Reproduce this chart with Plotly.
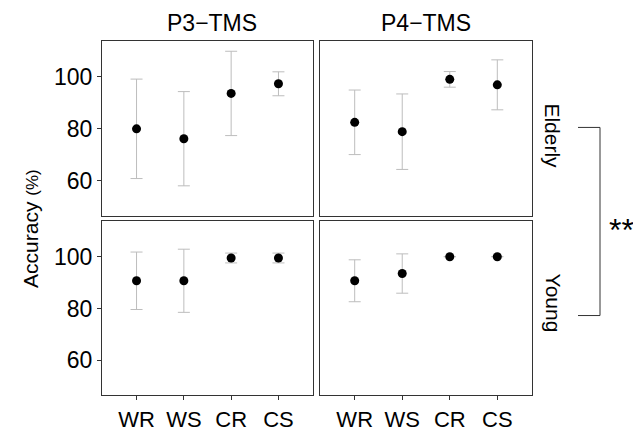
import plotly.graph_objects as go

categories = ["WR", "WS", "CR", "CS"]
cat_pos = [1, 2, 3, 4]

elderly_p3 = [80.0, 76.2, 93.6, 97.3]
elderly_p3_err = [19.1, 18.1, 16.2, 4.6]
elderly_p4 = [82.5, 78.9, 99.0, 96.9]
elderly_p4_err = [12.4, 14.5, 3.0, 9.6]
young_p3 = [90.7, 90.7, 99.5, 99.5]
young_p3_err = [11.1, 12.2, 1.9, 1.9]
young_p4 = [90.7, 93.5, 100.0, 100.0]
young_p4_err = [8.1, 7.6, 0.0, 0.0]

y_ticks = [60, 80, 100]
col_labels = ["P3\u2212TMS", "P4\u2212TMS"]
row_labels = ["Elderly", "Young"]

# page body has an 8px default margin; figure is sized to fill the rest
OFF = 8
W, H = 641 - OFF, 432 - OFF
FONT = "Liberation Sans, Arial, sans-serif"

def px_x(v):
    return (v - OFF) / W

def px_y(v):
    return 1 - (v - OFF) / H

panels = [
    (1, elderly_p3, elderly_p3_err, (102, 313), (41, 217)),
    (2, elderly_p4, elderly_p4_err, (320, 532), (41, 217)),
    (3, young_p3, young_p3_err, (102, 313), (222, 397)),
    (4, young_p4, young_p4_err, (320, 532), (222, 397)),
]

fig = go.Figure()
layout = dict(
    width=W, height=H, margin=dict(l=0, r=0, t=0, b=0),
    paper_bgcolor="white", plot_bgcolor="white", showlegend=False,
    font=dict(family=FONT, color="black"),
)

for i, vals, errs, (x0, x1), (y0, y1) in panels:
    sx = "" if i == 1 else str(i)
    fig.add_trace(go.Scatter(
        x=cat_pos, y=vals, mode="markers",
        marker=dict(color="black", size=9),
        error_y=dict(type="data", array=errs, visible=True,
                     color="#bdbdbd", thickness=1, width=6),
        xaxis="x" + sx, yaxis="y" + sx,
    ))
    bottom = i in (3, 4)
    left = i in (1, 3)
    layout["xaxis" + sx] = dict(
        domain=[px_x(x0), px_x(x1)], anchor="y" + sx,
        range=[0.27, 4.73], tickmode="array", tickvals=cat_pos,
        ticktext=categories if bottom else [""] * 4,
        ticks="outside" if bottom else "", ticklen=4, tickcolor="#333333",
        showticklabels=bottom, tickfont=dict(size=22, family=FONT),
        showgrid=False, zeroline=False, showline=True, mirror=True,
        linecolor="#333333", linewidth=1,
    )
    layout["yaxis" + sx] = dict(
        domain=[px_y(y1), px_y(y0)], anchor="x" + sx,
        range=[46.5, 113.8], tickmode="array", tickvals=y_ticks,
        ticks="outside" if left else "", ticklen=4, tickcolor="#333333",
        showticklabels=left, tickfont=dict(size=23, family=FONT),
        showgrid=False, zeroline=False, showline=True, mirror=True,
        linecolor="#333333", linewidth=1,
    )

fig.update_layout(**layout)

annotations = []
for lab, cx in zip(col_labels, [212, 426]):
    annotations.append(dict(text=lab, x=px_x(cx), y=px_y(23), xref="paper", yref="paper",
                            showarrow=False, font=dict(size=23, family=FONT),
                            xanchor="center", yanchor="middle"))
for lab, cy in zip(row_labels, [136, 304]):
    annotations.append(dict(text=lab, x=px_x(553), y=px_y(cy), xref="paper", yref="paper",
                            showarrow=False, textangle=90, font=dict(size=21, family=FONT),
                            xanchor="center", yanchor="middle"))
annotations.append(dict(text="Accuracy <span style='font-size:17px'>(%)</span>",
                        x=px_x(31), y=px_y(230), xref="paper", yref="paper",
                        showarrow=False, textangle=-90, font=dict(size=21, family=FONT),
                        xanchor="center", yanchor="middle"))
annotations.append(dict(text="**", x=px_x(621), y=px_y(231), xref="paper", yref="paper",
                        showarrow=False, font=dict(size=32, family=FONT),
                        xanchor="center", yanchor="middle"))
fig.update_layout(annotations=annotations)

shapes = []
for (xa, ya, xb, yb) in [(578, 128, 600, 128), (600, 128, 600, 317), (578, 317, 600, 317)]:
    shapes.append(dict(type="line", xref="paper", yref="paper",
                       x0=px_x(xa), y0=px_y(ya), x1=px_x(xb), y1=px_y(yb),
                       line=dict(color="#333333", width=1)))
fig.update_layout(shapes=shapes)

fig.write_html("out.html")
